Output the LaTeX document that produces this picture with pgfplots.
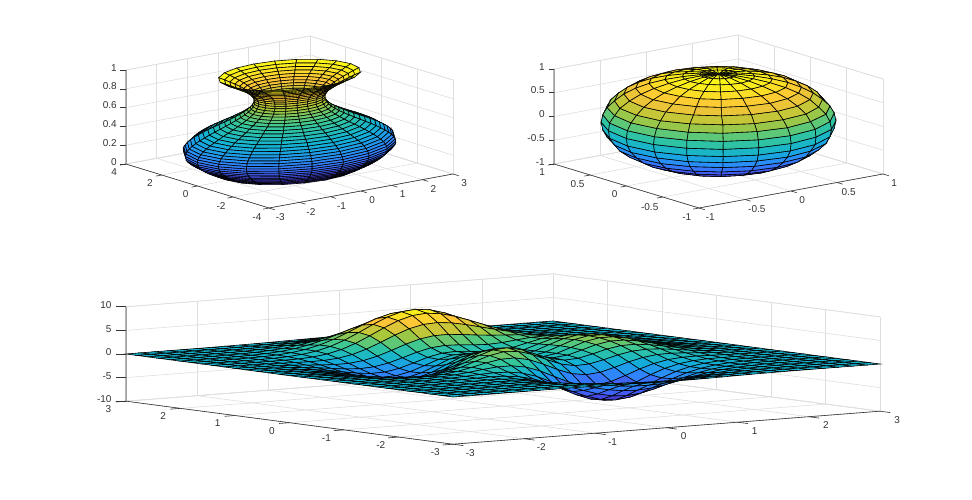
\documentclass[border=0pt]{standalone}
\usepackage{fontspec}
\setmainfont{Liberation Sans}
\usepackage{pgfplots}
\pgfplotsset{compat=1.18}
\definecolor{axdark}{gray}{0.2}
\definecolor{axgrid}{gray}{0.87}
\pgfplotsset{
  colormap={parula}{rgb=(0.2422,0.1504,0.6603) rgb=(0.2810,0.3228,0.9579) rgb=(0.1786,0.5301,0.9892) rgb=(0.0689,0.6948,0.8394) rgb=(0.2161,0.7843,0.5923) rgb=(0.6720,0.7793,0.2227) rgb=(0.9970,0.7659,0.2199) rgb=(0.9769,0.9839,0.0805)},
  matlab3d/.style={
    enlargelimits=false, clip=false, anchor=origin,
    grid=major, major grid style={axgrid, line width=0.6pt},
    axis line style={axgrid, line width=0.6pt},
    tick align=outside, tick pos=left,
    tick style={draw=none},
    tick label style={font=\fontsize{10}{12}\selectfont, text=axdark},
    /pgf/number format/assume math mode=true,
    /pgf/number format/fixed,
  },
  matlabsurf/.style={surf, shader=faceted, faceted color=black, line width=0.6pt, z buffer=sort},
}
\tikzset{axline/.style={axdark, line width=0.6pt}}
\begin{document}
\begin{tikzpicture}
\useasboundingbox (0,0) rectangle (972pt,500pt);
% vase
\begin{axis}[matlab3d, at={(289.5pt,331pt)},
  x={(30.67pt,5.67pt)}, y={(-17.88pt,5.5pt)}, z={(0pt,94pt)},
  xmin=-3, xmax=3, ymin=-4, ymax=4, zmin=0, zmax=1,
  xtick={-3,...,3}, ytick={-4,-2,0,2,4}, ztick={0,0.2,0.4,0.6,0.8,1},
  major tick length=6pt]
\addplot3[matlabsurf, mesh/rows=41] table {
2 0 0
1.9 .62 0
1.62 1.18 0
1.18 1.62 0
.62 1.9 0
0 2 0
-.62 1.9 0
-1.18 1.62 0
-1.62 1.18 0
-1.9 .62 0
-2 0 0
-1.9 -.62 0
-1.62 -1.18 0
-1.18 -1.62 0
-.62 -1.9 0
0 -2 0
.62 -1.9 0
1.18 -1.62 0
1.62 -1.18 0
1.9 -.62 0
2 0 0
2.16 0 .025
2.05 .67 .025
1.74 1.27 .025
1.27 1.74 .025
.67 2.05 .025
0 2.16 .025
-.67 2.05 .025
-1.27 1.74 .025
-1.74 1.27 .025
-2.05 .67 .025
-2.16 0 .025
-2.05 -.67 .025
-1.74 -1.27 .025
-1.27 -1.74 .025
-.67 -2.05 .025
0 -2.16 .025
.67 -2.05 .025
1.27 -1.74 .025
1.74 -1.27 .025
2.05 -.67 .025
2.16 0 .025
2.31 0 .05
2.2 .71 .05
1.87 1.36 .05
1.36 1.87 .05
.71 2.2 .05
0 2.31 .05
-.71 2.2 .05
-1.36 1.87 .05
-1.87 1.36 .05
-2.2 .71 .05
-2.31 0 .05
-2.2 -.71 .05
-1.87 -1.36 .05
-1.36 -1.87 .05
-.71 -2.2 .05
0 -2.31 .05
.71 -2.2 .05
1.36 -1.87 .05
1.87 -1.36 .05
2.2 -.71 .05
2.31 0 .05
2.45 0 .075
2.33 .76 .075
1.99 1.44 .075
1.44 1.99 .075
.76 2.33 .075
0 2.45 .075
-.76 2.33 .075
-1.44 1.99 .075
-1.99 1.44 .075
-2.33 .76 .075
-2.45 0 .075
-2.33 -.76 .075
-1.99 -1.44 .075
-1.44 -1.99 .075
-.76 -2.33 .075
0 -2.45 .075
.76 -2.33 .075
1.44 -1.99 .075
1.99 -1.44 .075
2.33 -.76 .075
2.45 0 .075
2.59 0 .1
2.46 .8 .1
2.09 1.52 .1
1.52 2.09 .1
.8 2.46 .1
0 2.59 .1
-.8 2.46 .1
-1.52 2.09 .1
-2.09 1.52 .1
-2.46 .8 .1
-2.59 0 .1
-2.46 -.8 .1
-2.09 -1.52 .1
-1.52 -2.09 .1
-.8 -2.46 .1
0 -2.59 .1
.8 -2.46 .1
1.52 -2.09 .1
2.09 -1.52 .1
2.46 -.8 .1
2.59 0 .1
2.71 0 .125
2.57 .84 .125
2.19 1.59 .125
1.59 2.19 .125
.84 2.57 .125
0 2.71 .125
-.84 2.57 .125
-1.59 2.19 .125
-2.19 1.59 .125
-2.57 .84 .125
-2.71 0 .125
-2.57 -.84 .125
-2.19 -1.59 .125
-1.59 -2.19 .125
-.84 -2.57 .125
0 -2.71 .125
.84 -2.57 .125
1.59 -2.19 .125
2.19 -1.59 .125
2.57 -.84 .125
2.71 0 .125
2.81 0 .15
2.67 .87 .15
2.27 1.65 .15
1.65 2.27 .15
.87 2.67 .15
0 2.81 .15
-.87 2.67 .15
-1.65 2.27 .15
-2.27 1.65 .15
-2.67 .87 .15
-2.81 0 .15
-2.67 -.87 .15
-2.27 -1.65 .15
-1.65 -2.27 .15
-.87 -2.67 .15
0 -2.81 .15
.87 -2.67 .15
1.65 -2.27 .15
2.27 -1.65 .15
2.67 -.87 .15
2.81 0 .15
2.89 0 .175
2.75 .89 .175
2.34 1.7 .175
1.7 2.34 .175
.89 2.75 .175
0 2.89 .175
-.89 2.75 .175
-1.7 2.34 .175
-2.34 1.7 .175
-2.75 .89 .175
-2.89 0 .175
-2.75 -.89 .175
-2.34 -1.7 .175
-1.7 -2.34 .175
-.89 -2.75 .175
0 -2.89 .175
.89 -2.75 .175
1.7 -2.34 .175
2.34 -1.7 .175
2.75 -.89 .175
2.89 0 .175
2.95 0 .2
2.81 .91 .2
2.39 1.73 .2
1.73 2.39 .2
.91 2.81 .2
0 2.95 .2
-.91 2.81 .2
-1.73 2.39 .2
-2.39 1.73 .2
-2.81 .91 .2
-2.95 0 .2
-2.81 -.91 .2
-2.39 -1.73 .2
-1.73 -2.39 .2
-.91 -2.81 .2
0 -2.95 .2
.91 -2.81 .2
1.73 -2.39 .2
2.39 -1.73 .2
2.81 -.91 .2
2.95 0 .2
2.99 0 .225
2.84 .92 .225
2.42 1.76 .225
1.76 2.42 .225
.92 2.84 .225
0 2.99 .225
-.92 2.84 .225
-1.76 2.42 .225
-2.42 1.76 .225
-2.84 .92 .225
-2.99 0 .225
-2.84 -.92 .225
-2.42 -1.76 .225
-1.76 -2.42 .225
-.92 -2.84 .225
0 -2.99 .225
.92 -2.84 .225
1.76 -2.42 .225
2.42 -1.76 .225
2.84 -.92 .225
2.99 0 .225
3 0 .25
2.85 .93 .25
2.43 1.76 .25
1.76 2.43 .25
.93 2.85 .25
0 3 .25
-.93 2.85 .25
-1.76 2.43 .25
-2.43 1.76 .25
-2.85 .93 .25
-3 0 .25
-2.85 -.93 .25
-2.43 -1.76 .25
-1.76 -2.43 .25
-.93 -2.85 .25
0 -3 .25
.93 -2.85 .25
1.76 -2.43 .25
2.43 -1.76 .25
2.85 -.93 .25
3 0 .25
2.99 0 .275
2.84 .92 .275
2.42 1.76 .275
1.76 2.42 .275
.92 2.84 .275
0 2.99 .275
-.92 2.84 .275
-1.76 2.42 .275
-2.42 1.76 .275
-2.84 .92 .275
-2.99 0 .275
-2.84 -.92 .275
-2.42 -1.76 .275
-1.76 -2.42 .275
-.92 -2.84 .275
0 -2.99 .275
.92 -2.84 .275
1.76 -2.42 .275
2.42 -1.76 .275
2.84 -.92 .275
2.99 0 .275
2.95 0 .3
2.81 .91 .3
2.39 1.73 .3
1.73 2.39 .3
.91 2.81 .3
0 2.95 .3
-.91 2.81 .3
-1.73 2.39 .3
-2.39 1.73 .3
-2.81 .91 .3
-2.95 0 .3
-2.81 -.91 .3
-2.39 -1.73 .3
-1.73 -2.39 .3
-.91 -2.81 .3
0 -2.95 .3
.91 -2.81 .3
1.73 -2.39 .3
2.39 -1.73 .3
2.81 -.91 .3
2.95 0 .3
2.89 0 .325
2.75 .89 .325
2.34 1.7 .325
1.7 2.34 .325
.89 2.75 .325
0 2.89 .325
-.89 2.75 .325
-1.7 2.34 .325
-2.34 1.7 .325
-2.75 .89 .325
-2.89 0 .325
-2.75 -.89 .325
-2.34 -1.7 .325
-1.7 -2.34 .325
-.89 -2.75 .325
0 -2.89 .325
.89 -2.75 .325
1.7 -2.34 .325
2.34 -1.7 .325
2.75 -.89 .325
2.89 0 .325
2.81 0 .35
2.67 .87 .35
2.27 1.65 .35
1.65 2.27 .35
.87 2.67 .35
0 2.81 .35
-.87 2.67 .35
-1.65 2.27 .35
-2.27 1.65 .35
-2.67 .87 .35
-2.81 0 .35
-2.67 -.87 .35
-2.27 -1.65 .35
-1.65 -2.27 .35
-.87 -2.67 .35
0 -2.81 .35
.87 -2.67 .35
1.65 -2.27 .35
2.27 -1.65 .35
2.67 -.87 .35
2.81 0 .35
2.71 0 .375
2.57 .84 .375
2.19 1.59 .375
1.59 2.19 .375
.84 2.57 .375
0 2.71 .375
-.84 2.57 .375
-1.59 2.19 .375
-2.19 1.59 .375
-2.57 .84 .375
-2.71 0 .375
-2.57 -.84 .375
-2.19 -1.59 .375
-1.59 -2.19 .375
-.84 -2.57 .375
0 -2.71 .375
.84 -2.57 .375
1.59 -2.19 .375
2.19 -1.59 .375
2.57 -.84 .375
2.71 0 .375
2.59 0 .4
2.46 .8 .4
2.09 1.52 .4
1.52 2.09 .4
.8 2.46 .4
0 2.59 .4
-.8 2.46 .4
-1.52 2.09 .4
-2.09 1.52 .4
-2.46 .8 .4
-2.59 0 .4
-2.46 -.8 .4
-2.09 -1.52 .4
-1.52 -2.09 .4
-.8 -2.46 .4
0 -2.59 .4
.8 -2.46 .4
1.52 -2.09 .4
2.09 -1.52 .4
2.46 -.8 .4
2.59 0 .4
2.45 0 .425
2.33 .76 .425
1.99 1.44 .425
1.44 1.99 .425
.76 2.33 .425
0 2.45 .425
-.76 2.33 .425
-1.44 1.99 .425
-1.99 1.44 .425
-2.33 .76 .425
-2.45 0 .425
-2.33 -.76 .425
-1.99 -1.44 .425
-1.44 -1.99 .425
-.76 -2.33 .425
0 -2.45 .425
.76 -2.33 .425
1.44 -1.99 .425
1.99 -1.44 .425
2.33 -.76 .425
2.45 0 .425
2.31 0 .45
2.2 .71 .45
1.87 1.36 .45
1.36 1.87 .45
.71 2.2 .45
0 2.31 .45
-.71 2.2 .45
-1.36 1.87 .45
-1.87 1.36 .45
-2.2 .71 .45
-2.31 0 .45
-2.2 -.71 .45
-1.87 -1.36 .45
-1.36 -1.87 .45
-.71 -2.2 .45
0 -2.31 .45
.71 -2.2 .45
1.36 -1.87 .45
1.87 -1.36 .45
2.2 -.71 .45
2.31 0 .45
2.16 0 .475
2.05 .67 .475
1.74 1.27 .475
1.27 1.74 .475
.67 2.05 .475
0 2.16 .475
-.67 2.05 .475
-1.27 1.74 .475
-1.74 1.27 .475
-2.05 .67 .475
-2.16 0 .475
-2.05 -.67 .475
-1.74 -1.27 .475
-1.27 -1.74 .475
-.67 -2.05 .475
0 -2.16 .475
.67 -2.05 .475
1.27 -1.74 .475
1.74 -1.27 .475
2.05 -.67 .475
2.16 0 .475
2 0 .5
1.9 .62 .5
1.62 1.18 .5
1.18 1.62 .5
.62 1.9 .5
0 2 .5
-.62 1.9 .5
-1.18 1.62 .5
-1.62 1.18 .5
-1.9 .62 .5
-2 0 .5
-1.9 -.62 .5
-1.62 -1.18 .5
-1.18 -1.62 .5
-.62 -1.9 .5
0 -2 .5
.62 -1.9 .5
1.18 -1.62 .5
1.62 -1.18 .5
1.9 -.62 .5
2 0 .5
1.84 0 .525
1.75 .57 .525
1.49 1.08 .525
1.08 1.49 .525
.57 1.75 .525
0 1.84 .525
-.57 1.75 .525
-1.08 1.49 .525
-1.49 1.08 .525
-1.75 .57 .525
-1.84 0 .525
-1.75 -.57 .525
-1.49 -1.08 .525
-1.08 -1.49 .525
-.57 -1.75 .525
0 -1.84 .525
.57 -1.75 .525
1.08 -1.49 .525
1.49 -1.08 .525
1.75 -.57 .525
1.84 0 .525
1.69 0 .55
1.61 .52 .55
1.37 .99 .55
.99 1.37 .55
.52 1.61 .55
0 1.69 .55
-.52 1.61 .55
-.99 1.37 .55
-1.37 .99 .55
-1.61 .52 .55
-1.69 0 .55
-1.61 -.52 .55
-1.37 -.99 .55
-.99 -1.37 .55
-.52 -1.61 .55
0 -1.69 .55
.52 -1.61 .55
.99 -1.37 .55
1.37 -.99 .55
1.61 -.52 .55
1.69 0 .55
1.55 0 .575
1.47 .48 .575
1.25 .91 .575
.91 1.25 .575
.48 1.47 .575
0 1.55 .575
-.48 1.47 .575
-.91 1.25 .575
-1.25 .91 .575
-1.47 .48 .575
-1.55 0 .575
-1.47 -.48 .575
-1.25 -.91 .575
-.91 -1.25 .575
-.48 -1.47 .575
0 -1.55 .575
.48 -1.47 .575
.91 -1.25 .575
1.25 -.91 .575
1.47 -.48 .575
1.55 0 .575
1.41 0 .6
1.34 .44 .6
1.14 .83 .6
.83 1.14 .6
.44 1.34 .6
0 1.41 .6
-.44 1.34 .6
-.83 1.14 .6
-1.14 .83 .6
-1.34 .44 .6
-1.41 0 .6
-1.34 -.44 .6
-1.14 -.83 .6
-.83 -1.14 .6
-.44 -1.34 .6
0 -1.41 .6
.44 -1.34 .6
.83 -1.14 .6
1.14 -.83 .6
1.34 -.44 .6
1.41 0 .6
1.29 0 .625
1.23 .4 .625
1.05 .76 .625
.76 1.05 .625
.4 1.23 .625
0 1.29 .625
-.4 1.23 .625
-.76 1.05 .625
-1.05 .76 .625
-1.23 .4 .625
-1.29 0 .625
-1.23 -.4 .625
-1.05 -.76 .625
-.76 -1.05 .625
-.4 -1.23 .625
0 -1.29 .625
.4 -1.23 .625
.76 -1.05 .625
1.05 -.76 .625
1.23 -.4 .625
1.29 0 .625
1.19 0 .65
1.13 .37 .65
.96 .7 .65
.7 .96 .65
.37 1.13 .65
0 1.19 .65
-.37 1.13 .65
-.7 .96 .65
-.96 .7 .65
-1.13 .37 .65
-1.19 0 .65
-1.13 -.37 .65
-.96 -.7 .65
-.7 -.96 .65
-.37 -1.13 .65
0 -1.19 .65
.37 -1.13 .65
.7 -.96 .65
.96 -.7 .65
1.13 -.37 .65
1.19 0 .65
1.11 0 .675
1.05 .34 .675
.9 .65 .675
.65 .9 .675
.34 1.05 .675
0 1.11 .675
-.34 1.05 .675
-.65 .9 .675
-.9 .65 .675
-1.05 .34 .675
-1.11 0 .675
-1.05 -.34 .675
-.9 -.65 .675
-.65 -.9 .675
-.34 -1.05 .675
0 -1.11 .675
.34 -1.05 .675
.65 -.9 .675
.9 -.65 .675
1.05 -.34 .675
1.11 0 .675
1.05 0 .7
1 .32 .7
.85 .62 .7
.62 .85 .7
.32 1 .7
0 1.05 .7
-.32 1 .7
-.62 .85 .7
-.85 .62 .7
-1 .32 .7
-1.05 0 .7
-1 -.32 .7
-.85 -.62 .7
-.62 -.85 .7
-.32 -1 .7
0 -1.05 .7
.32 -1 .7
.62 -.85 .7
.85 -.62 .7
1 -.32 .7
1.05 0 .7
1.01 0 .725
.96 .31 .725
.82 .59 .725
.59 .82 .725
.31 .96 .725
0 1.01 .725
-.31 .96 .725
-.59 .82 .725
-.82 .59 .725
-.96 .31 .725
-1.01 0 .725
-.96 -.31 .725
-.82 -.59 .725
-.59 -.82 .725
-.31 -.96 .725
0 -1.01 .725
.31 -.96 .725
.59 -.82 .725
.82 -.59 .725
.96 -.31 .725
1.01 0 .725
1 0 .75
.95 .31 .75
.81 .59 .75
.59 .81 .75
.31 .95 .75
0 1 .75
-.31 .95 .75
-.59 .81 .75
-.81 .59 .75
-.95 .31 .75
-1 0 .75
-.95 -.31 .75
-.81 -.59 .75
-.59 -.81 .75
-.31 -.95 .75
0 -1 .75
.31 -.95 .75
.59 -.81 .75
.81 -.59 .75
.95 -.31 .75
1 0 .75
1.01 0 .775
.96 .31 .775
.82 .59 .775
.59 .82 .775
.31 .96 .775
0 1.01 .775
-.31 .96 .775
-.59 .82 .775
-.82 .59 .775
-.96 .31 .775
-1.01 0 .775
-.96 -.31 .775
-.82 -.59 .775
-.59 -.82 .775
-.31 -.96 .775
0 -1.01 .775
.31 -.96 .775
.59 -.82 .775
.82 -.59 .775
.96 -.31 .775
1.01 0 .775
1.05 0 .8
1 .32 .8
.85 .62 .8
.62 .85 .8
.32 1 .8
0 1.05 .8
-.32 1 .8
-.62 .85 .8
-.85 .62 .8
-1 .32 .8
-1.05 0 .8
-1 -.32 .8
-.85 -.62 .8
-.62 -.85 .8
-.32 -1 .8
0 -1.05 .8
.32 -1 .8
.62 -.85 .8
.85 -.62 .8
1 -.32 .8
1.05 0 .8
1.11 0 .825
1.05 .34 .825
.9 .65 .825
.65 .9 .825
.34 1.05 .825
0 1.11 .825
-.34 1.05 .825
-.65 .9 .825
-.9 .65 .825
-1.05 .34 .825
-1.11 0 .825
-1.05 -.34 .825
-.9 -.65 .825
-.65 -.9 .825
-.34 -1.05 .825
0 -1.11 .825
.34 -1.05 .825
.65 -.9 .825
.9 -.65 .825
1.05 -.34 .825
1.11 0 .825
1.19 0 .85
1.13 .37 .85
.96 .7 .85
.7 .96 .85
.37 1.13 .85
0 1.19 .85
-.37 1.13 .85
-.7 .96 .85
-.96 .7 .85
-1.13 .37 .85
-1.19 0 .85
-1.13 -.37 .85
-.96 -.7 .85
-.7 -.96 .85
-.37 -1.13 .85
0 -1.19 .85
.37 -1.13 .85
.7 -.96 .85
.96 -.7 .85
1.13 -.37 .85
1.19 0 .85
1.29 0 .875
1.23 .4 .875
1.05 .76 .875
.76 1.05 .875
.4 1.23 .875
0 1.29 .875
-.4 1.23 .875
-.76 1.05 .875
-1.05 .76 .875
-1.23 .4 .875
-1.29 0 .875
-1.23 -.4 .875
-1.05 -.76 .875
-.76 -1.05 .875
-.4 -1.23 .875
0 -1.29 .875
.4 -1.23 .875
.76 -1.05 .875
1.05 -.76 .875
1.23 -.4 .875
1.29 0 .875
1.41 0 .9
1.34 .44 .9
1.14 .83 .9
.83 1.14 .9
.44 1.34 .9
0 1.41 .9
-.44 1.34 .9
-.83 1.14 .9
-1.14 .83 .9
-1.34 .44 .9
-1.41 0 .9
-1.34 -.44 .9
-1.14 -.83 .9
-.83 -1.14 .9
-.44 -1.34 .9
0 -1.41 .9
.44 -1.34 .9
.83 -1.14 .9
1.14 -.83 .9
1.34 -.44 .9
1.41 0 .9
1.55 0 .925
1.47 .48 .925
1.25 .91 .925
.91 1.25 .925
.48 1.47 .925
0 1.55 .925
-.48 1.47 .925
-.91 1.25 .925
-1.25 .91 .925
-1.47 .48 .925
-1.55 0 .925
-1.47 -.48 .925
-1.25 -.91 .925
-.91 -1.25 .925
-.48 -1.47 .925
0 -1.55 .925
.48 -1.47 .925
.91 -1.25 .925
1.25 -.91 .925
1.47 -.48 .925
1.55 0 .925
1.69 0 .95
1.61 .52 .95
1.37 .99 .95
.99 1.37 .95
.52 1.61 .95
0 1.69 .95
-.52 1.61 .95
-.99 1.37 .95
-1.37 .99 .95
-1.61 .52 .95
-1.69 0 .95
-1.61 -.52 .95
-1.37 -.99 .95
-.99 -1.37 .95
-.52 -1.61 .95
0 -1.69 .95
.52 -1.61 .95
.99 -1.37 .95
1.37 -.99 .95
1.61 -.52 .95
1.69 0 .95
1.84 0 .975
1.75 .57 .975
1.49 1.08 .975
1.08 1.49 .975
.57 1.75 .975
0 1.84 .975
-.57 1.75 .975
-1.08 1.49 .975
-1.49 1.08 .975
-1.75 .57 .975
-1.84 0 .975
-1.75 -.57 .975
-1.49 -1.08 .975
-1.08 -1.49 .975
-.57 -1.75 .975
0 -1.84 .975
.57 -1.75 .975
1.08 -1.49 .975
1.49 -1.08 .975
1.75 -.57 .975
1.84 0 .975
2 0 1
1.9 .62 1
1.62 1.18 1
1.18 1.62 1
.62 1.9 1
0 2 1
-.62 1.9 1
-1.18 1.62 1
-1.62 1.18 1
-1.9 .62 1
-2 0 1
-1.9 -.62 1
-1.62 -1.18 1
-1.18 -1.62 1
-.62 -1.9 1
0 -2 1
.62 -1.9 1
1.18 -1.62 1
1.62 -1.18 1
1.9 -.62 1
2 0 1
};
\draw[axline] (axis cs:-3,4,1)--(axis cs:-3,4,0)--(axis cs:-3,-4,0)--(axis cs:3,-4,0);
\pgfplotsinvokeforeach{-3,-2,-1,0,1,2,3}{\draw[axline] (axis cs:#1,-4,0)-- ++(5.7pt,-1.75pt);}
\pgfplotsinvokeforeach{-4,-2,0,2,4}{\draw[axline] (axis cs:-3,#1,0)-- ++(-5.9pt,-1.1pt);}
\pgfplotsinvokeforeach{0,0.2,0.4,0.6,0.8,1}{\draw[axline] (axis cs:-3,4,#1)-- ++(-5.5pt,0pt);}
\end{axis}
% sphere
\begin{axis}[matlab3d, at={(718.5pt,378.5pt)},
  x={(92pt,17pt)}, y={(-72.5pt,22pt)}, z={(0pt,47.5pt)},
  xmin=-1, xmax=1, ymin=-1, ymax=1, zmin=-1, zmax=1,
  xtick={-1,-0.5,0,0.5,1}, ytick={-1,-0.5,0,0.5,1}, ztick={-1,-0.5,0,0.5,1},
  major tick length=6pt]
\addplot3[matlabsurf, mesh/rows=21] table {
0 0 -1
0 0 -1
0 0 -1
0 0 -1
0 0 -1
0 0 -1
0 0 -1
0 0 -1
0 0 -1
0 0 -1
0 0 -1
0 0 -1
0 0 -1
0 0 -1
0 0 -1
0 0 -1
0 0 -1
0 0 -1
0 0 -1
0 0 -1
0 0 -1
-.16 0 -.99
-.15 -.05 -.99
-.13 -.09 -.99
-.09 -.13 -.99
-.05 -.15 -.99
0 -.16 -.99
.05 -.15 -.99
.09 -.13 -.99
.13 -.09 -.99
.15 -.05 -.99
.16 0 -.99
.15 .05 -.99
.13 .09 -.99
.09 .13 -.99
.05 .15 -.99
0 .16 -.99
-.05 .15 -.99
-.09 .13 -.99
-.13 .09 -.99
-.15 .05 -.99
-.16 0 -.99
-.31 0 -.95
-.29 -.1 -.95
-.25 -.18 -.95
-.18 -.25 -.95
-.1 -.29 -.95
0 -.31 -.95
.1 -.29 -.95
.18 -.25 -.95
.25 -.18 -.95
.29 -.1 -.95
.31 0 -.95
.29 .1 -.95
.25 .18 -.95
.18 .25 -.95
.1 .29 -.95
0 .31 -.95
-.1 .29 -.95
-.18 .25 -.95
-.25 .18 -.95
-.29 .1 -.95
-.31 0 -.95
-.45 0 -.89
-.43 -.14 -.89
-.37 -.27 -.89
-.27 -.37 -.89
-.14 -.43 -.89
0 -.45 -.89
.14 -.43 -.89
.27 -.37 -.89
.37 -.27 -.89
.43 -.14 -.89
.45 0 -.89
.43 .14 -.89
.37 .27 -.89
.27 .37 -.89
.14 .43 -.89
0 .45 -.89
-.14 .43 -.89
-.27 .37 -.89
-.37 .27 -.89
-.43 .14 -.89
-.45 0 -.89
-.59 0 -.81
-.56 -.18 -.81
-.48 -.35 -.81
-.35 -.48 -.81
-.18 -.56 -.81
0 -.59 -.81
.18 -.56 -.81
.35 -.48 -.81
.48 -.35 -.81
.56 -.18 -.81
.59 0 -.81
.56 .18 -.81
.48 .35 -.81
.35 .48 -.81
.18 .56 -.81
0 .59 -.81
-.18 .56 -.81
-.35 .48 -.81
-.48 .35 -.81
-.56 .18 -.81
-.59 0 -.81
-.71 0 -.71
-.67 -.22 -.71
-.57 -.42 -.71
-.42 -.57 -.71
-.22 -.67 -.71
0 -.71 -.71
.22 -.67 -.71
.42 -.57 -.71
.57 -.42 -.71
.67 -.22 -.71
.71 0 -.71
.67 .22 -.71
.57 .42 -.71
.42 .57 -.71
.22 .67 -.71
0 .71 -.71
-.22 .67 -.71
-.42 .57 -.71
-.57 .42 -.71
-.67 .22 -.71
-.71 0 -.71
-.81 0 -.59
-.77 -.25 -.59
-.65 -.48 -.59
-.48 -.65 -.59
-.25 -.77 -.59
0 -.81 -.59
.25 -.77 -.59
.48 -.65 -.59
.65 -.48 -.59
.77 -.25 -.59
.81 0 -.59
.77 .25 -.59
.65 .48 -.59
.48 .65 -.59
.25 .77 -.59
0 .81 -.59
-.25 .77 -.59
-.48 .65 -.59
-.65 .48 -.59
-.77 .25 -.59
-.81 0 -.59
-.89 0 -.45
-.85 -.28 -.45
-.72 -.52 -.45
-.52 -.72 -.45
-.28 -.85 -.45
0 -.89 -.45
.28 -.85 -.45
.52 -.72 -.45
.72 -.52 -.45
.85 -.28 -.45
.89 0 -.45
.85 .28 -.45
.72 .52 -.45
.52 .72 -.45
.28 .85 -.45
0 .89 -.45
-.28 .85 -.45
-.52 .72 -.45
-.72 .52 -.45
-.85 .28 -.45
-.89 0 -.45
-.95 0 -.31
-.9 -.29 -.31
-.77 -.56 -.31
-.56 -.77 -.31
-.29 -.9 -.31
0 -.95 -.31
.29 -.9 -.31
.56 -.77 -.31
.77 -.56 -.31
.9 -.29 -.31
.95 0 -.31
.9 .29 -.31
.77 .56 -.31
.56 .77 -.31
.29 .9 -.31
0 .95 -.31
-.29 .9 -.31
-.56 .77 -.31
-.77 .56 -.31
-.9 .29 -.31
-.95 0 -.31
-.99 0 -.16
-.94 -.31 -.16
-.8 -.58 -.16
-.58 -.8 -.16
-.31 -.94 -.16
0 -.99 -.16
.31 -.94 -.16
.58 -.8 -.16
.8 -.58 -.16
.94 -.31 -.16
.99 0 -.16
.94 .31 -.16
.8 .58 -.16
.58 .8 -.16
.31 .94 -.16
0 .99 -.16
-.31 .94 -.16
-.58 .8 -.16
-.8 .58 -.16
-.94 .31 -.16
-.99 0 -.16
-1 0 0
-.95 -.31 0
-.81 -.59 0
-.59 -.81 0
-.31 -.95 0
0 -1 0
.31 -.95 0
.59 -.81 0
.81 -.59 0
.95 -.31 0
1 0 0
.95 .31 0
.81 .59 0
.59 .81 0
.31 .95 0
0 1 0
-.31 .95 0
-.59 .81 0
-.81 .59 0
-.95 .31 0
-1 0 0
-.99 0 .16
-.94 -.31 .16
-.8 -.58 .16
-.58 -.8 .16
-.31 -.94 .16
0 -.99 .16
.31 -.94 .16
.58 -.8 .16
.8 -.58 .16
.94 -.31 .16
.99 0 .16
.94 .31 .16
.8 .58 .16
.58 .8 .16
.31 .94 .16
0 .99 .16
-.31 .94 .16
-.58 .8 .16
-.8 .58 .16
-.94 .31 .16
-.99 0 .16
-.95 0 .31
-.9 -.29 .31
-.77 -.56 .31
-.56 -.77 .31
-.29 -.9 .31
0 -.95 .31
.29 -.9 .31
.56 -.77 .31
.77 -.56 .31
.9 -.29 .31
.95 0 .31
.9 .29 .31
.77 .56 .31
.56 .77 .31
.29 .9 .31
0 .95 .31
-.29 .9 .31
-.56 .77 .31
-.77 .56 .31
-.9 .29 .31
-.95 0 .31
-.89 0 .45
-.85 -.28 .45
-.72 -.52 .45
-.52 -.72 .45
-.28 -.85 .45
0 -.89 .45
.28 -.85 .45
.52 -.72 .45
.72 -.52 .45
.85 -.28 .45
.89 0 .45
.85 .28 .45
.72 .52 .45
.52 .72 .45
.28 .85 .45
0 .89 .45
-.28 .85 .45
-.52 .72 .45
-.72 .52 .45
-.85 .28 .45
-.89 0 .45
-.81 0 .59
-.77 -.25 .59
-.65 -.48 .59
-.48 -.65 .59
-.25 -.77 .59
0 -.81 .59
.25 -.77 .59
.48 -.65 .59
.65 -.48 .59
.77 -.25 .59
.81 0 .59
.77 .25 .59
.65 .48 .59
.48 .65 .59
.25 .77 .59
0 .81 .59
-.25 .77 .59
-.48 .65 .59
-.65 .48 .59
-.77 .25 .59
-.81 0 .59
-.71 0 .71
-.67 -.22 .71
-.57 -.42 .71
-.42 -.57 .71
-.22 -.67 .71
0 -.71 .71
.22 -.67 .71
.42 -.57 .71
.57 -.42 .71
.67 -.22 .71
.71 0 .71
.67 .22 .71
.57 .42 .71
.42 .57 .71
.22 .67 .71
0 .71 .71
-.22 .67 .71
-.42 .57 .71
-.57 .42 .71
-.67 .22 .71
-.71 0 .71
-.59 0 .81
-.56 -.18 .81
-.48 -.35 .81
-.35 -.48 .81
-.18 -.56 .81
0 -.59 .81
.18 -.56 .81
.35 -.48 .81
.48 -.35 .81
.56 -.18 .81
.59 0 .81
.56 .18 .81
.48 .35 .81
.35 .48 .81
.18 .56 .81
0 .59 .81
-.18 .56 .81
-.35 .48 .81
-.48 .35 .81
-.56 .18 .81
-.59 0 .81
-.45 0 .89
-.43 -.14 .89
-.37 -.27 .89
-.27 -.37 .89
-.14 -.43 .89
0 -.45 .89
.14 -.43 .89
.27 -.37 .89
.37 -.27 .89
.43 -.14 .89
.45 0 .89
.43 .14 .89
.37 .27 .89
.27 .37 .89
.14 .43 .89
0 .45 .89
-.14 .43 .89
-.27 .37 .89
-.37 .27 .89
-.43 .14 .89
-.45 0 .89
-.31 0 .95
-.29 -.1 .95
-.25 -.18 .95
-.18 -.25 .95
-.1 -.29 .95
0 -.31 .95
.1 -.29 .95
.18 -.25 .95
.25 -.18 .95
.29 -.1 .95
.31 0 .95
.29 .1 .95
.25 .18 .95
.18 .25 .95
.1 .29 .95
0 .31 .95
-.1 .29 .95
-.18 .25 .95
-.25 .18 .95
-.29 .1 .95
-.31 0 .95
-.16 0 .99
-.15 -.05 .99
-.13 -.09 .99
-.09 -.13 .99
-.05 -.15 .99
0 -.16 .99
.05 -.15 .99
.09 -.13 .99
.13 -.09 .99
.15 -.05 .99
.16 0 .99
.15 .05 .99
.13 .09 .99
.09 .13 .99
.05 .15 .99
0 .16 .99
-.05 .15 .99
-.09 .13 .99
-.13 .09 .99
-.15 .05 .99
-.16 0 .99
0 0 1
0 0 1
0 0 1
0 0 1
0 0 1
0 0 1
0 0 1
0 0 1
0 0 1
0 0 1
0 0 1
0 0 1
0 0 1
0 0 1
0 0 1
0 0 1
0 0 1
0 0 1
0 0 1
0 0 1
0 0 1
};
\draw[axline] (axis cs:-1,1,1)--(axis cs:-1,1,-1)--(axis cs:-1,-1,-1)--(axis cs:1,-1,-1);
\pgfplotsinvokeforeach{-1,-0.5,0,0.5,1}{
  \draw[axline] (axis cs:#1,-1,-1)-- ++(5.7pt,-1.7pt);
  \draw[axline] (axis cs:-1,#1,-1)-- ++(-5.9pt,-1.1pt);
  \draw[axline] (axis cs:-1,1,#1)-- ++(-5.5pt,0pt);
}
\end{axis}
% peaks
\begin{axis}[matlab3d, at={(503pt,141pt)},
  x={(71.17pt,5.5pt)}, y={(-54.5pt,7.17pt)}, z={(0pt,4.72pt)},
  xmin=-3, xmax=3, ymin=-3, ymax=3, zmin=-10, zmax=10,
  xtick={-3,...,3}, ytick={-3,...,3}, ztick={-10,-5,0,5,10},
  major tick length=11pt]
\addplot3[matlabsurf, mesh/rows=31] table {
-3 -3 0
-2.8 -3 0
-2.6 -3 0
-2.4 -3 0
-2.2 -3 0
-2 -3 0
-1.8 -3 .01
-1.6 -3 .01
-1.4 -3 0
-1.2 -3 -.01
-1 -3 -.03
-.8 -3 -.06
-.6 -3 -.11
-.4 -3 -.16
-.2 -3 -.21
0 -3 -.25
.2 -3 -.25
.4 -3 -.24
.6 -3 -.2
.8 -3 -.16
1 -3 -.11
1.2 -3 -.07
1.4 -3 -.04
1.6 -3 -.02
1.8 -3 -.01
2 -3 -.01
2.2 -3 0
2.4 -3 0
2.6 -3 0
2.8 -3 0
3 -3 0
-3 -2.8 0
-2.8 -2.8 0
-2.6 -2.8 0
-2.4 -2.8 0
-2.2 -2.8 0
-2 -2.8 .01
-1.8 -2.8 .01
-1.6 -2.8 .01
-1.4 -2.8 0
-1.2 -2.8 -.03
-1 -2.8 -.07
-.8 -2.8 -.15
-.6 -2.8 -.26
-.4 -2.8 -.37
-.2 -2.8 -.48
0 -2.8 -.55
.2 -2.8 -.57
.4 -2.8 -.53
.6 -2.8 -.45
.8 -2.8 -.35
1 -2.8 -.24
1.2 -2.8 -.16
1.4 -2.8 -.09
1.6 -2.8 -.05
1.8 -2.8 -.02
2 -2.8 -.01
2.2 -2.8 0
2.4 -2.8 0
2.6 -2.8 0
2.8 -2.8 0
3 -2.8 0
-3 -2.6 0
-2.8 -2.6 0
-2.6 -2.6 0
-2.4 -2.6 0
-2.2 -2.6 .01
-2 -2.6 .01
-1.8 -2.6 .01
-1.6 -2.6 .01
-1.4 -2.6 -.01
-1.2 -2.6 -.07
-1 -2.6 -.17
-.8 -2.6 -.33
-.6 -2.6 -.55
-.4 -2.6 -.79
-.2 -2.6 -1
0 -2.6 -1.15
.2 -2.6 -1.18
.4 -2.6 -1.11
.6 -2.6 -.94
.8 -2.6 -.72
1 -2.6 -.5
1.2 -2.6 -.32
1.4 -2.6 -.19
1.6 -2.6 -.1
1.8 -2.6 -.05
2 -2.6 -.02
2.2 -2.6 -.01
2.4 -2.6 0
2.6 -2.6 0
2.8 -2.6 0
3 -2.6 0
-3 -2.4 0
-2.8 -2.4 0
-2.6 -2.4 0
-2.4 -2.4 .01
-2.2 -2.4 .01
-2 -2.4 .02
-1.8 -2.4 .02
-1.6 -2.4 .02
-1.4 -2.4 -.02
-1.2 -2.4 -.12
-1 -2.4 -.31
-.8 -2.4 -.61
-.6 -2.4 -1
-.4 -2.4 -1.43
-.2 -2.4 -1.83
0 -2.4 -2.09
.2 -2.4 -2.15
.4 -2.4 -2.01
.6 -2.4 -1.7
.8 -2.4 -1.31
1 -2.4 -.91
1.2 -2.4 -.58
1.4 -2.4 -.33
1.6 -2.4 -.17
1.8 -2.4 -.08
2 -2.4 -.03
2.2 -2.4 -.01
2.4 -2.4 0
2.6 -2.4 0
2.8 -2.4 0
3 -2.4 0
-3 -2.2 0
-2.8 -2.2 0
-2.6 -2.2 0
-2.4 -2.2 .01
-2.2 -2.2 .02
-2 -2.2 .03
-1.8 -2.2 .04
-1.6 -2.2 .03
-1.4 -2.2 -.03
-1.2 -2.2 -.18
-1 -2.2 -.48
-.8 -2.2 -.95
-.6 -2.2 -1.58
-.4 -2.2 -2.28
-.2 -2.2 -2.93
0 -2.2 -3.36
.2 -2.2 -3.48
.4 -2.2 -3.25
.6 -2.2 -2.76
.8 -2.2 -2.12
1 -2.2 -1.47
1.2 -2.2 -.93
1.4 -2.2 -.53
1.6 -2.2 -.27
1.8 -2.2 -.13
2 -2.2 -.05
2.2 -2.2 -.02
2.4 -2.2 -.01
2.6 -2.2 0
2.8 -2.2 0
3 -2.2 0
-3 -2 0
-2.8 -2 0
-2.6 -2 .01
-2.4 -2 .01
-2.2 -2 .03
-2 -2 .05
-1.8 -2 .07
-1.6 -2 .07
-1.4 -2 0
-1.2 -2 -.19
-1 -2 -.59
-.8 -2 -1.24
-.6 -2 -2.13
-.4 -2 -3.15
-.2 -2 -4.1
0 -2 -4.75
.2 -2 -4.95
.4 -2 -4.66
.6 -2 -3.95
.8 -2 -3.03
1 -2 -2.1
1.2 -2 -1.31
1.4 -2 -.74
1.6 -2 -.37
1.8 -2 -.16
2 -2 -.06
2.2 -2 -.02
2.4 -2 0
2.6 -2 0
2.8 -2 0
3 -2 0
-3 -1.8 0
-2.8 -1.8 0
-2.6 -1.8 .01
-2.4 -1.8 .02
-2.2 -1.8 .03
-2 -1.8 .07
-1.8 -1.8 .1
-1.6 -1.8 .13
-1.4 -1.8 .09
-1.2 -1.8 -.09
-1 -1.8 -.53
-.8 -1.8 -1.29
-.6 -1.8 -2.38
-.4 -1.8 -3.67
-.2 -1.8 -4.92
0 -1.8 -5.83
.2 -1.8 -6.16
.4 -1.8 -5.83
.6 -1.8 -4.97
.8 -1.8 -3.8
1 -1.8 -2.61
1.2 -1.8 -1.6
1.4 -1.8 -.87
1.6 -1.8 -.41
1.8 -1.8 -.17
2 -1.8 -.05
2.2 -1.8 -.01
2.4 -1.8 0
2.6 -1.8 0
2.8 -1.8 0
3 -1.8 0
-3 -1.6 0
-2.8 -1.6 0
-2.6 -1.6 0
-2.4 -1.6 .01
-2.2 -1.6 .04
-2 -1.6 .08
-1.8 -1.6 .15
-1.6 -1.6 .22
-1.4 -1.6 .27
-1.2 -1.6 .18
-1 -1.6 -.16
-.8 -1.6 -.87
-.6 -1.6 -1.99
-.4 -1.6 -3.42
-.2 -1.6 -4.88
0 -1.6 -6.02
.2 -1.6 -6.53
.4 -1.6 -6.28
.6 -1.6 -5.37
.8 -1.6 -4.09
1 -1.6 -2.76
1.2 -1.6 -1.63
1.4 -1.6 -.83
1.6 -1.6 -.34
1.8 -1.6 -.1
2 -1.6 0
2.2 -1.6 .02
2.4 -1.6 .02
2.6 -1.6 .01
2.8 -1.6 .01
3 -1.6 0
-3 -1.4 0
-2.8 -1.4 0
-2.6 -1.4 0
-2.4 -1.4 0
-2.2 -1.4 .02
-2 -1.4 .07
-1.8 -1.4 .16
-1.6 -1.4 .31
-1.4 -1.4 .48
-1.2 -1.4 .59
-1 -1.4 .51
-.8 -1.4 .06
-.6 -1.4 -.86
-.4 -1.4 -2.2
-.2 -1.4 -3.73
0 -1.4 -5.04
.2 -1.4 -5.76
.4 -1.4 -5.7
.6 -1.4 -4.91
.8 -1.4 -3.68
1 -1.4 -2.37
1.2 -1.4 -1.28
1.4 -1.4 -.52
1.6 -1.4 -.1
1.8 -1.4 .07
2 -1.4 .1
2.2 -1.4 .08
2.4 -1.4 .05
2.6 -1.4 .03
2.8 -1.4 .01
3 -1.4 .01
-3 -1.2 0
-2.8 -1.2 -.01
-2.6 -1.2 -.02
-2.4 -1.2 -.03
-2.2 -1.2 -.02
-2 -1.2 .01
-1.8 -1.2 .11
-1.6 -1.2 .3
-1.4 -1.2 .62
-1.2 -1.2 1
-1 -1.2 1.3
-.8 -1.2 1.3
-.6 -1.2 .81
-.4 -1.2 -.23
-.2 -1.2 -1.65
0 -1.2 -3.04
.2 -1.2 -3.98
.4 -1.2 -4.18
.6 -1.2 -3.64
.8 -1.2 -2.61
1 -1.2 -1.47
1.2 -1.2 -.54
1.4 -1.2 .06
1.6 -1.2 .32
1.8 -1.2 .35
2 -1.2 .27
2.2 -1.2 .18
2.4 -1.2 .1
2.6 -1.2 .05
2.8 -1.2 .02
3 -1.2 .01
-3 -1 -.01
-2.8 -1 -.02
-2.6 -1 -.04
-2.4 -1 -.07
-2.2 -1 -.11
-2 -1 -.13
-1.8 -1 -.08
-1.6 -1 .12
-1.4 -1 .54
-1.2 -1 1.15
-1 -1 1.86
-.8 -1 2.38
-.6 -1 2.44
-.4 -1 1.84
-.2 -1 .66
0 -1 -.72
.2 -1 -1.83
.4 -1 -2.28
.6 -1 -2
.8 -1 -1.2
1 -1 -.27
1.2 -1 .45
1.4 -1 .83
1.6 -1 .87
1.8 -1 .72
2 -1 .5
2.2 -1 .3
2.4 -1 .16
2.6 -1 .08
2.8 -1 .03
3 -1 .01
-3 -.8 -.01
-2.8 -.8 -.04
-2.6 -.8 -.08
-2.4 -.8 -.15
-2.2 -.8 -.25
-2 -.8 -.36
-1.8 -.8 -.41
-1.6 -.8 -.29
-1.4 -.8 .12
-1.2 -.8 .87
-1 -.8 1.88
-.8 -.8 2.87
-.6 -.8 3.44
-.4 -.8 3.29
-.2 -.8 2.4
0 -.8 1.09
.2 -.8 -.09
.4 -.8 -.68
.6 -.8 -.54
.8 -.8 .12
1 -.8 .91
1.2 -.8 1.47
1.4 -.8 1.65
1.6 -.8 1.49
1.8 -.8 1.14
2 -.8 .75
2.2 -.8 .44
2.4 -.8 .23
2.6 -.8 .11
2.8 -.8 .05
3 -.8 .02
-3 -.6 -.02
-2.8 -.6 -.05
-2.6 -.6 -.12
-2.4 -.6 -.23
-2.2 -.6 -.41
-2 -.6 -.65
-1.8 -.6 -.85
-1.6 -.6 -.91
-1.4 -.6 -.62
-1.2 -.6 .12
-1 -.6 1.28
-.8 -.6 2.56
-.6 -.6 3.52
-.4 -.6 3.74
-.2 -.6 3.11
0 -.6 1.93
.2 -.6 .78
.4 -.6 .19
.6 -.6 .36
.8 -.6 1.05
1 -.6 1.85
1.2 -.6 2.35
1.4 -.6 2.4
1.6 -.6 2.07
1.8 -.6 1.54
2 -.6 1.01
2.2 -.6 .59
2.4 -.6 .31
2.6 -.6 .15
2.8 -.6 .06
3 -.6 .02
-3 -.4 -.03
-2.8 -.4 -.07
-2.6 -.4 -.16
-2.4 -.4 -.32
-2.2 -.4 -.59
-2 -.4 -.95
-1.8 -.4 -1.34
-1.6 -.4 -1.6
-1.4 -.4 -1.51
-1.2 -.4 -.9
-1 -.4 .26
-.8 -.4 1.68
-.6 -.4 2.86
-.4 -.4 3.34
-.2 -.4 2.92
0 -.4 1.9
.2 -.4 .87
.4 -.4 .41
.6 -.4 .72
.8 -.4 1.57
1 -.4 2.47
1.2 -.4 3
1.4 -.4 2.99
1.6 -.4 2.54
1.8 -.4 1.88
2 -.4 1.22
2.2 -.4 .71
2.4 -.4 .37
2.6 -.4 .18
2.8 -.4 .07
3 -.4 .03
-3 -.2 -.03
-2.8 -.2 -.08
-2.6 -.2 -.19
-2.4 -.2 -.39
-2.2 -.2 -.72
-2 -.2 -1.19
-1.8 -.2 -1.74
-1.6 -.2 -2.2
-1.4 -.2 -2.33
-1.2 -.2 -1.88
-1 -.2 -.82
-.8 -.2 .61
-.6 -.2 1.91
-.4 -.2 2.55
-.2 -.2 2.31
0 -.2 1.46
.2 -.2 .6
.4 -.2 .31
.6 -.2 .79
.8 -.2 1.8
1 -.2 2.82
1.2 -.2 3.4
1.4 -.2 3.37
1.6 -.2 2.85
1.8 -.2 2.1
2 -.2 1.37
2.2 -.2 .79
2.4 -.2 .41
2.6 -.2 .2
2.8 -.2 .08
3 -.2 .03
-3 0 -.04
-2.8 0 -.09
-2.6 0 -.21
-2.4 0 -.43
-2.2 0 -.8
-2 0 -1.33
-1.8 0 -1.98
-1.6 0 -2.58
-1.4 0 -2.86
-1.2 0 -2.58
-1 0 -1.65
-.8 0 -.29
-.6 0 1.02
-.4 0 1.75
-.2 0 1.66
0 0 .98
.2 0 .29
.4 0 .16
.6 0 .77
.8 0 1.87
1 0 2.94
1.2 0 3.53
1.4 0 3.5
1.6 0 2.95
1.8 0 2.17
2 0 1.41
2.2 0 .82
2.4 0 .43
2.6 0 .2
2.8 0 .08
3 0 .03
-3 .2 -.04
-2.8 .2 -.09
-2.6 .2 -.2
-2.4 .2 -.42
-2.2 .2 -.79
-2 .2 -1.34
-1.8 .2 -2.01
-1.6 .2 -2.66
-1.4 .2 -3.03
-1.2 .2 -2.88
-1 .2 -2.1
-.8 .2 -.88
-.6 .2 .35
-.4 .2 1.1
-.2 .2 1.11
0 .2 .6
.2 .2 .07
.4 .2 .05
.6 .2 .7
.8 .2 1.79
1 .2 2.82
1.2 .2 3.39
1.4 .2 3.35
1.6 .2 2.83
1.8 .2 2.08
2 .2 1.35
2.2 .2 .78
2.4 .2 .41
2.6 .2 .19
2.8 .2 .08
3 .2 .03
-3 .4 -.03
-2.8 .4 -.08
-2.6 .4 -.18
-2.4 .4 -.38
-2.2 .4 -.72
-2 .4 -1.22
-1.8 .4 -1.84
-1.6 .4 -2.46
-1.4 .4 -2.85
-1.2 .4 -2.77
-1 .4 -2.14
-.8 .4 -1.09
-.6 .4 0
-.4 .4 .7
-.2 .4 .78
0 .4 .41
.2 .4 .02
.4 .4 .05
.6 .4 .66
.8 .4 1.63
1 .4 2.53
1.2 .4 3.03
1.4 .4 2.98
1.6 .4 2.51
1.8 .4 1.84
2 .4 1.2
2.2 .4 .69
2.4 .4 .36
2.6 .4 .17
2.8 .4 .07
3 .4 .03
-3 .6 -.03
-2.8 .6 -.07
-2.6 .6 -.15
-2.4 .6 -.32
-2.2 .6 -.59
-2 .6 -1.01
-1.8 .6 -1.53
-1.6 .6 -2.04
-1.4 .6 -2.36
-1.2 .6 -2.29
-1 .6 -1.74
-.8 .6 -.84
-.6 .6 .13
-.4 .6 .78
-.2 .6 .93
0 .6 .69
.2 .6 .4
.4 .6 .41
.6 .6 .85
.8 .6 1.58
1 .6 2.25
1.2 .6 2.59
1.4 .6 2.5
1.6 .6 2.09
1.8 .6 1.52
2 .6 .98
2.2 .6 .57
2.4 .6 .3
2.6 .6 .14
2.8 .6 .06
3 .6 .02
-3 .8 -.02
-2.8 .8 -.05
-2.6 .8 -.11
-2.4 .8 -.24
-2.2 .8 -.44
-2 .8 -.75
-1.8 .8 -1.12
-1.6 .8 -1.47
-1.4 .8 -1.64
-1.2 .8 -1.48
-1 .8 -.92
-.8 .8 -.04
-.6 .8 .91
-.4 .8 1.62
-.2 .8 1.89
0 .8 1.78
.2 .8 1.53
.4 .8 1.41
.6 .8 1.56
.8 .8 1.89
1 .8 2.18
1.2 .8 2.27
1.4 .8 2.08
1.6 .8 1.68
1.8 .8 1.2
2 .8 .77
2.2 .8 .44
2.4 .8 .23
2.6 .8 .11
2.8 .8 .05
3 .8 .02
-3 1 -.01
-2.8 1 -.03
-2.6 1 -.08
-2.4 1 -.16
-2.2 1 -.29
-2 1 -.48
-1.8 1 -.69
-1.6 1 -.85
-1.4 1 -.82
-1.2 1 -.48
-1 1 .23
-.8 1 1.23
-.6 1 2.31
-.4 1 3.19
-.2 1 3.66
0 1 3.69
.2 1 3.43
.4 1 3.08
.6 1 2.81
.8 1 2.62
1 1 2.43
1.2 1 2.17
1.4 1 1.8
1.6 1 1.36
1.8 1 .93
2 1 .58
2.2 1 .33
2.4 1 .17
2.6 1 .08
2.8 1 .03
3 1 .01
-3 1.2 -.01
-2.8 1.2 -.02
-2.6 1.2 -.05
-2.4 1.2 -.09
-2.2 1.2 -.16
-2 1.2 -.25
-1.8 1.2 -.31
-1.6 1.2 -.28
-1.4 1.2 -.04
-1.2 1.2 .51
-1 1.2 1.43
-.8 1.2 2.63
-.6 1.2 3.93
-.4 1.2 5.04
-.2 1.2 5.73
0 1.2 5.89
.2 1.2 5.59
.4 1.2 4.99
.6 1.2 4.27
.8 1.2 3.55
1 1.2 2.87
1.2 1.2 2.23
1.4 1.2 1.65
1.6 1.2 1.15
1.8 1.2 .74
2 1.2 .44
2.2 1.2 .24
2.4 1.2 .12
2.6 1.2 .05
2.8 1.2 .02
3 1.2 .01
-3 1.4 0
-2.8 1.4 -.01
-2.6 1.4 -.02
-2.4 1.4 -.04
-2.2 1.4 -.06
-2 1.4 -.07
-1.8 1.4 -.03
-1.6 1.4 .15
-1.4 1.4 .55
-1.2 1.4 1.26
-1 1.4 2.34
-.8 1.4 3.71
-.6 1.4 5.17
-.4 1.4 6.46
-.2 1.4 7.31
0 1.4 7.57
.2 1.4 7.23
.4 1.4 6.43
.6 1.4 5.38
.8 1.4 4.26
1 1.4 3.2
1.2 1.4 2.29
1.4 1.4 1.56
1.6 1.4 1
1.8 1.4 .6
2 1.4 .34
2.2 1.4 .17
2.4 1.4 .08
2.6 1.4 .04
2.8 1.4 .02
3 1.4 .01
-3 1.6 0
-2.8 1.6 0
-2.6 1.6 -.01
-2.4 1.6 -.01
-2.2 1.6 0
-2 1.6 .03
-1.8 1.6 .14
-1.6 1.6 .39
-1.4 1.6 .86
-1.2 1.6 1.63
-1 1.6 2.73
-.8 1.6 4.11
-.6 1.6 5.59
-.4 1.6 6.91
-.2 1.6 7.8
0 1.6 8.1
.2 1.6 7.76
.4 1.6 6.89
.6 1.6 5.71
.8 1.6 4.42
1 1.6 3.21
1.2 1.6 2.19
1.4 1.6 1.41
1.6 1.6 .85
1.8 1.6 .48
2 1.6 .26
2.2 1.6 .13
2.4 1.6 .06
2.6 1.6 .03
2.8 1.6 .01
3 1.6 0
-3 1.8 0
-2.8 1.8 0
-2.6 1.8 0
-2.4 1.8 .01
-2.2 1.8 .02
-2 1.8 .08
-1.8 1.8 .2
-1.6 1.8 .45
-1.4 1.8 .9
-1.2 1.8 1.61
-1 1.8 2.6
-.8 1.8 3.82
-.6 1.8 5.13
-.4 1.8 6.31
-.2 1.8 7.12
0 1.8 7.4
.2 1.8 7.1
.4 1.8 6.31
.6 1.8 5.19
.8 1.8 3.98
1 1.8 2.84
1.2 1.8 1.89
1.4 1.8 1.18
1.6 1.8 .69
1.8 1.8 .37
2 1.8 .19
2.2 1.8 .09
2.4 1.8 .04
2.6 1.8 .02
2.8 1.8 .01
3 1.8 0
-3 2 0
-2.8 2 0
-2.6 2 0
-2.4 2 .01
-2.2 2 .03
-2 2 .08
-1.8 2 .19
-1.6 2 .39
-1.4 2 .76
-1.2 2 1.32
-1 2 2.09
-.8 2 3.05
-.6 2 4.07
-.4 2 4.99
-.2 2 5.63
0 2 5.85
.2 2 5.62
.4 2 4.99
.6 2 4.1
.8 2 3.12
1 2 2.21
1.2 2 1.45
1.4 2 .89
1.6 2 .51
1.8 2 .27
2 2 .13
2.2 2 .06
2.4 2 .03
2.6 2 .01
2.8 2 0
3 2 0
-3 2.2 0
-2.8 2.2 0
-2.6 2.2 0
-2.4 2.2 .01
-2.2 2.2 .03
-2 2.2 .06
-1.8 2.2 .14
-1.6 2.2 .29
-1.4 2.2 .54
-1.2 2.2 .93
-1 2.2 1.47
-.8 2.2 2.13
-.6 2.2 2.83
-.4 2.2 3.47
-.2 2.2 3.91
0 2.2 4.07
.2 2.2 3.91
.4 2.2 3.47
.6 2.2 2.85
.8 2.2 2.16
1 2.2 1.52
1.2 2.2 .99
1.4 2.2 .6
1.6 2.2 .34
1.8 2.2 .18
2 2.2 .09
2.2 2.2 .04
2.4 2.2 .02
2.6 2.2 .01
2.8 2.2 0
3 2.2 0
-3 2.4 0
-2.8 2.4 0
-2.6 2.4 0
-2.4 2.4 .01
-2.2 2.4 .02
-2 2.4 .04
-1.8 2.4 .09
-1.6 2.4 .18
-1.4 2.4 .34
-1.2 2.4 .58
-1 2.4 .91
-.8 2.4 1.32
-.6 2.4 1.75
-.4 2.4 2.14
-.2 2.4 2.41
0 2.4 2.51
.2 2.4 2.41
.4 2.4 2.14
.6 2.4 1.75
.8 2.4 1.33
1 2.4 .93
1.2 2.4 .61
1.4 2.4 .36
1.6 2.4 .2
1.8 2.4 .1
2 2.4 .05
2.2 2.4 .02
2.4 2.4 .01
2.6 2.4 0
2.8 2.4 0
3 2.4 0
-3 2.6 0
-2.8 2.6 0
-2.6 2.6 0
-2.4 2.6 0
-2.2 2.6 .01
-2 2.6 .02
-1.8 2.6 .05
-1.6 2.6 .1
-1.4 2.6 .19
-1.2 2.6 .32
-1 2.6 .5
-.8 2.6 .73
-.6 2.6 .96
-.4 2.6 1.18
-.2 2.6 1.33
0 2.6 1.38
.2 2.6 1.33
.4 2.6 1.18
.6 2.6 .96
.8 2.6 .73
1 2.6 .51
1.2 2.6 .33
1.4 2.6 .2
1.6 2.6 .11
1.8 2.6 .06
2 2.6 .03
2.2 2.6 .01
2.4 2.6 0
2.6 2.6 0
2.8 2.6 0
3 2.6 0
-3 2.8 0
-2.8 2.8 0
-2.6 2.8 0
-2.4 2.8 0
-2.2 2.8 0
-2 2.8 .01
-1.8 2.8 .03
-1.6 2.8 .05
-1.4 2.8 .09
-1.2 2.8 .16
-1 2.8 .25
-.8 2.8 .35
-.6 2.8 .47
-.4 2.8 .57
-.2 2.8 .64
0 2.8 .67
.2 2.8 .64
.4 2.8 .57
.6 2.8 .47
.8 2.8 .35
1 2.8 .25
1.2 2.8 .16
1.4 2.8 .09
1.6 2.8 .05
1.8 2.8 .03
2 2.8 .01
2.2 2.8 0
2.4 2.8 0
2.6 2.8 0
2.8 2.8 0
3 2.8 0
-3 3 0
-2.8 3 0
-2.6 3 0
-2.4 3 0
-2.2 3 0
-2 3 0
-1.8 3 .01
-1.6 3 .02
-1.4 3 .04
-1.2 3 .07
-1 3 .11
-.8 3 .16
-.6 3 .21
-.4 3 .26
-.2 3 .29
0 3 .3
.2 3 .29
.4 3 .26
.6 3 .21
.8 3 .16
1 3 .11
1.2 3 .07
1.4 3 .04
1.6 3 .02
1.8 3 .01
2 3 .01
2.2 3 0
2.4 3 0
2.6 3 0
2.8 3 0
3 3 0
};
\draw[axline] (axis cs:-3,3,10)--(axis cs:-3,3,-10)--(axis cs:-3,-3,-10)--(axis cs:3,-3,-10);
\pgfplotsinvokeforeach{-3,-2,-1,0,1,2,3}{
  \draw[axline] (axis cs:#1,-3,-10)-- ++(10.4pt,-1.4pt);
  \draw[axline] (axis cs:-3,#1,-10)-- ++(-10.4pt,-0.8pt);
}
\pgfplotsinvokeforeach{-10,-5,0,5,10}{\draw[axline] (axis cs:-3,3,#1)-- ++(-10pt,0pt);}
\end{axis}
\end{tikzpicture}
\end{document}
